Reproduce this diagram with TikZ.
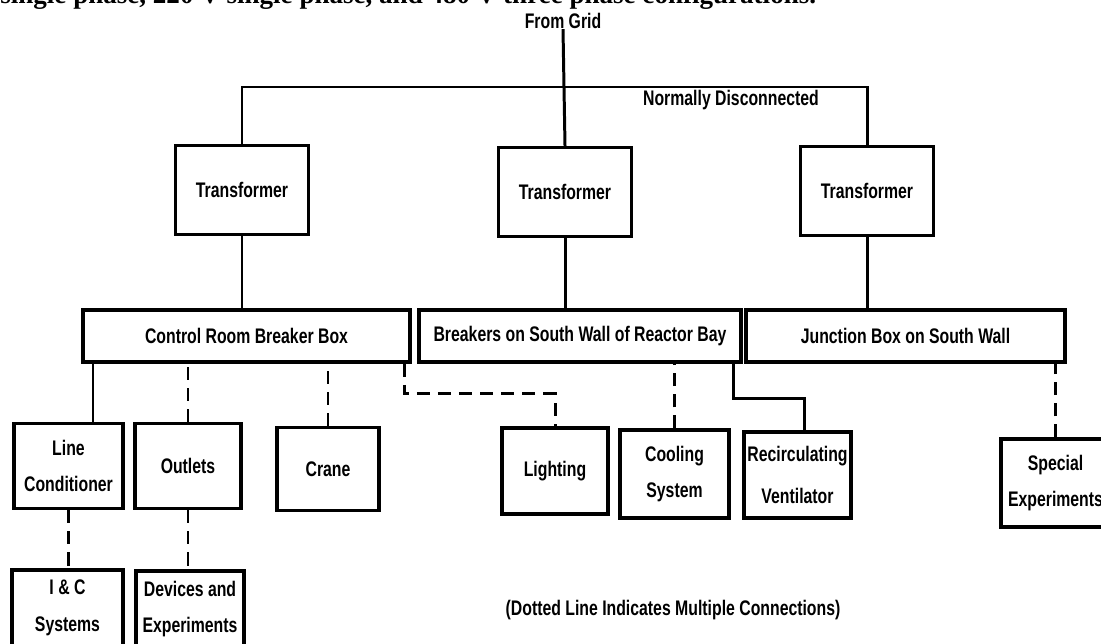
\documentclass[tikz,border=0pt]{standalone}
\usepackage{fontspec}
\usetikzlibrary{positioning}
\newfontfamily\labelfamily[FakeStretch=0.75]{Liberation Sans}
\newfontfamily\pagefamily{Liberation Serif}
\newcommand\diagfont{\labelfamily\bfseries\fontsize{12}{21}\selectfont}
\newcommand\pagefont{\pagefamily\bfseries\fontsize{15.4}{18}\selectfont}

\tikzset{
  equip/.style={draw, line width=1.9pt, inner sep=0pt, align=center, font=\diagfont},
  xfmr/.style={equip, minimum width=2.66cm, minimum height=1.78cm},
  panel/.style={equip, minimum height=1.04cm},
  feed/.style={line width=1.7pt},
  multi/.style={feed, dash pattern=on 7.5pt off 4.5pt},
}

\begin{document}
\begin{tikzpicture}[x=0.02cm, y=-0.02cm]
\path[use as bounding box, fill=white] (0,0) rectangle (1101,643);

% ---- running text of the page, cut at the top ----
\node[anchor=base west, inner sep=0pt, font=\pagefont] (pagetext) at (0,3)
  {single phase, 220 V single phase, and 480 V three phase configurations.};

% ---- supply and transformers ----
\node[font=\diagfont, inner sep=0pt] (grid) at (563,21) {From Grid};
\node[xfmr] (t1) at (242,190) {Transformer};
\node[xfmr] (t2) at (565,192) {Transformer};
\node[xfmr] (t3) at (867,191) {Transformer};

\coordinate (bus) at (565,87);
\draw[feed] (grid.south) -- (t2.north);
\draw[feed] (t1.north) |- (bus) -| (t3.north);
\node[font=\diagfont, inner sep=0pt] (nd) at (731,100) {Normally Disconnected};

% ---- breaker panels ----
\node[panel, minimum width=6.54cm] (crbox) at (246.5,336) {Control Room Breaker Box};
\node[panel, minimum width=6.44cm] (brbox) at (580,336) {Breakers on South Wall of Reactor Bay};
\node[panel, minimum width=6.38cm] (jbox) at (905.5,336) {Junction Box on South Wall};

\draw[feed] (t1.south) -- (t1.south |- crbox.north);
\draw[feed] (t2.south) -- (t2.south |- brbox.north);
\draw[feed] (t3.south) -- (t3.south |- jbox.north);

% ---- loads ----
\node[equip, minimum width=2.18cm, minimum height=1.7cm] (lc) at (68.5,466) {Line\\Conditioner};
\node[equip, minimum width=2.12cm, minimum height=1.7cm] (outlets) at (188,466) {Outlets};
\node[equip, minimum width=2.04cm, minimum height=1.66cm] (crane) at (328,469) {Crane};
\node[equip, minimum width=2.12cm, minimum height=1.72cm] (lighting) at (555,471) {Lighting};
\node[equip, minimum width=2.18cm, minimum height=1.76cm] (cooling) at (674.5,474) {Cooling\\System};
\node[equip, minimum width=2.14cm, minimum height=1.72cm] (recirc) at (797.5,475) {Recirculating\\[3pt]Ventilator};
\node[equip, minimum width=2.18cm, minimum height=1.76cm] (special) at (1055.5,483) {Special\\Experiments};
\node[equip, minimum width=2.22cm, minimum height=1.52cm] (ic) at (67.5,608) {I \& C\\Systems};
\node[equip, minimum width=2.16cm, minimum height=1.52cm] (devices) at (190,609) {Devices and\\Experiments};

% solid = single feed, dashed = several feeds
\draw[feed] ([xshift=0.49cm]lc.north) -- ([xshift=0.49cm]lc.north |- crbox.south);
\draw[multi] (outlets.north) -- (outlets.north |- crbox.south);
\draw[multi] (crane.north) -- (crane.north |- crbox.south);
\draw[multi] ([xshift=-0.14cm]crbox.south east) -- ++(0,30) -| (lighting.north);
\draw[multi] (cooling.north) -- (cooling.north |- brbox.south);
\draw[feed] ([xshift=-0.18cm]brbox.south east) -- ++(0,35) -| ([xshift=0.13cm]recirc.north);
\draw[multi] (special.north) -- (special.north |- jbox.south);
\draw[multi] (lc.south) -- (lc.south |- ic.north);
\draw[multi] (outlets.south) -- (outlets.south |- devices.north);

% legend
\node[font=\diagfont, inner sep=0pt] (note) at (673,610) {(Dotted Line Indicates Multiple Connections)};
\end{tikzpicture}
\end{document}
